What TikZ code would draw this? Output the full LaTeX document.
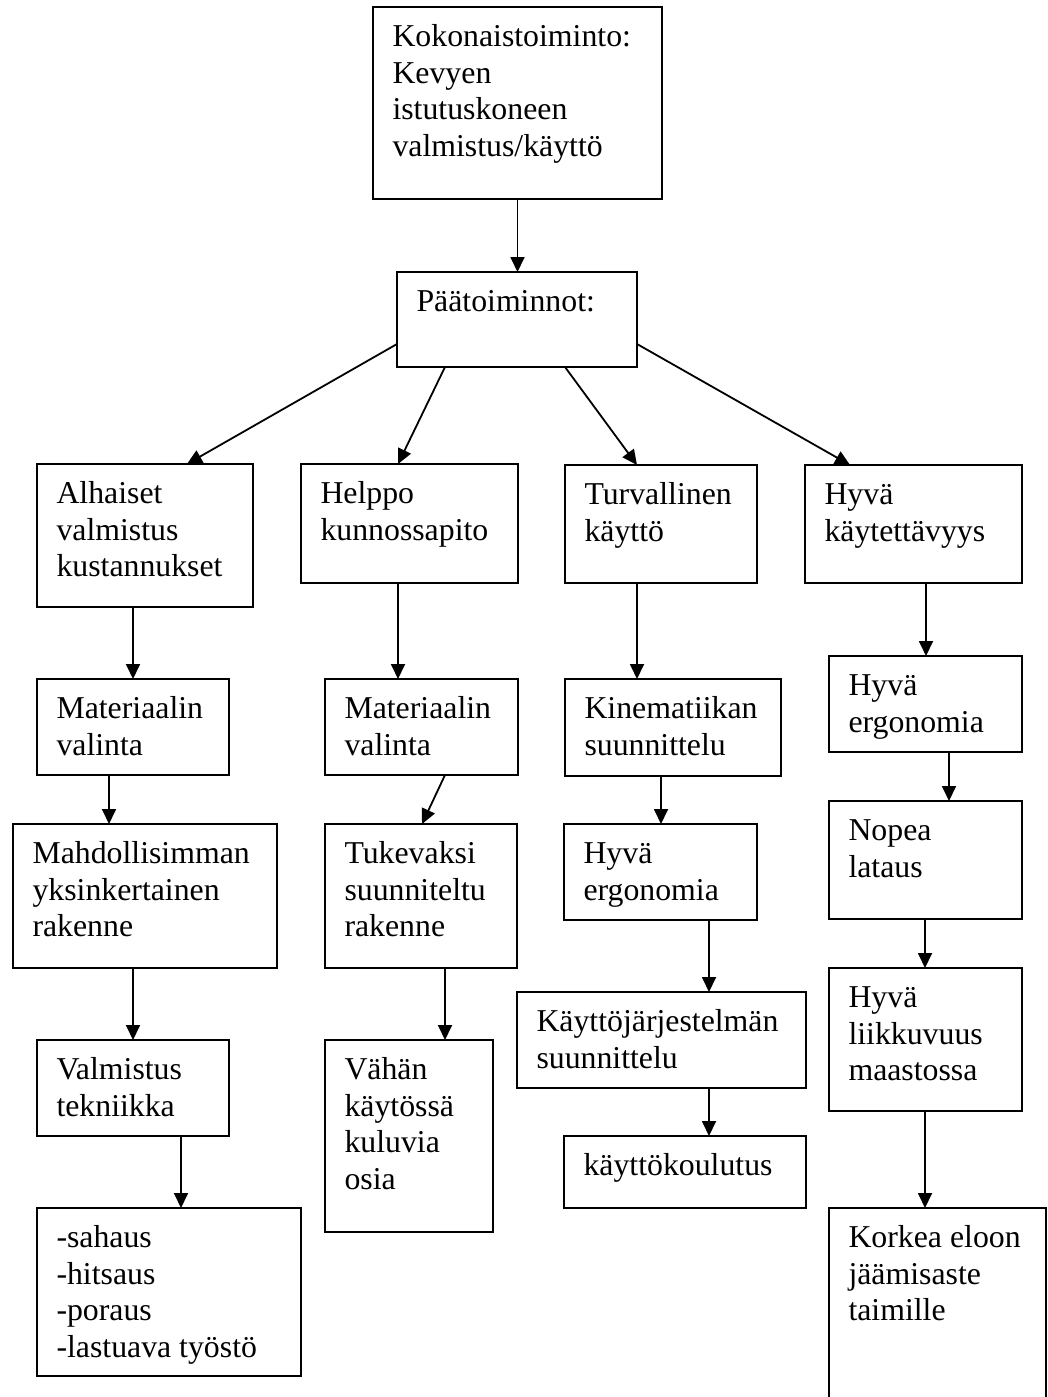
\documentclass[tikz,border=0pt]{standalone}
\usepackage{fontspec}
\setmainfont{Liberation Serif}
\usetikzlibrary{arrows.meta}

% text block of a box: fixed width and height, first baseline 39.5pt below the top
\newcommand\celltext{\fontsize{31.8pt}{36.7pt}\selectfont}
\newcommand\cell[3]{%
  \vbox to #2pt{\hsize=#1pt\parindent=0pt\leftskip=19.5pt
    \rightskip=0pt plus 1fil\parfillskip=0pt plus 1fil\hyphenpenalty=10000
    \kern11.5pt\noindent\rule{0pt}{28pt}#3\par\vss}}

\tikzset{
  cellbox/.style={draw, line width=1.8pt, inner sep=0pt, outer sep=0pt,
    anchor=north west, font=\celltext},
  arr/.style={line width=1.8pt, -{Triangle[length=15pt,width=14pt]}}
}

\begin{document}
\begin{tikzpicture}[x=1pt,y=-1pt]
\path[use as bounding box, fill=white] (0,0) rectangle (1047,1397);
\clip (0,0) rectangle (1047,1397);

% top levels
\node[cellbox] (top) at (373,7)   {\cell{289}{192}{Kokonaistoiminto:\\Kevyen\\istutuskoneen\\valmistus/käyttö}};
\node[cellbox] (paa) at (397,272) {\cell{240}{95}{Päätoiminnot:}};

% main functions
\node[cellbox] (alh) at (37,464)  {\cell{216}{143}{Alhaiset\\valmistus\\kustannukset}};
\node[cellbox] (hel) at (301,464) {\cell{217}{119}{Helppo\\kunnossapito}};
\node[cellbox] (tur) at (565,465) {\cell{192}{118}{Turvallinen\\käyttö}};
\node[cellbox] (hyk) at (805,465) {\cell{217}{118}{Hyvä\\käytettävyys}};

% first column
\node[cellbox] (mat1) at (37,679)  {\cell{192}{96}{Materiaalin\\valinta}};
\node[cellbox] (mahd) at (13,824)  {\cell{264}{144}{Mahdollisimman\\yksinkertainen\\rakenne}};
\node[cellbox] (val)  at (37,1040) {\cell{192}{96}{Valmistus\\tekniikka}};
\node[cellbox] (list) at (37,1208) {\cell{264}{168}{-sahaus\\-hitsaus\\-poraus\\-lastuava työstö}};

% second column
\node[cellbox] (mat2) at (325,679)  {\cell{193}{96}{Materiaalin\\valinta}};
\node[cellbox] (tuk)  at (325,824)  {\cell{192}{144}{Tukevaksi\\suunniteltu\\rakenne}};
\node[cellbox] (vah)  at (325,1040) {\cell{168}{192}{Vähän\\käytössä\\kuluvia\\osia}};

% third column
\node[cellbox] (kin)  at (565,679)  {\cell{216}{97}{Kinematiikan\\suunnittelu}};
\node[cellbox] (erg2) at (564,824)  {\cell{193}{96}{Hyvä\\ergonomia}};
\node[cellbox] (kj)   at (517,992)  {\cell{289}{96}{Käyttöjärjestelmän\\suunnittelu}};
\node[cellbox] (kou)  at (564,1136) {\cell{242}{72}{käyttökoulutus}};

% fourth column
\node[cellbox] (erg1) at (829,656)  {\cell{193}{96}{Hyvä\\ergonomia}};
\node[cellbox] (nop)  at (829,801)  {\cell{193}{118}{Nopea\\lataus}};
\node[cellbox] (liik) at (829,968)  {\cell{193}{143}{Hyvä\\liikkuvuus\\maastossa}};
\node[cellbox] (kor)  at (829,1208) {\cell{217}{210}{Korkea eloon\\jäämisaste\\taimille}};

% connectors
\draw[arr] (top.south) -- (top.south |- paa.north);
\draw[arr] ([yshift=-72pt]paa.north west) -- ([xshift=150pt]alh.north west);
\draw[arr] ([xshift=48pt]paa.south west)  -- ([xshift=97pt]hel.north west);
\draw[arr] ([xshift=168pt]paa.south west) -- ([xshift=72pt]tur.north west);
\draw[arr] ([yshift=-72pt]paa.north east) -- ([xshift=45pt]hyk.north west);

\draw[arr] ([xshift=96pt]alh.south west)  -- ([xshift=96pt]alh.south west |- mat1.north);
\draw[arr] ([xshift=72pt]mat1.south west) -- ([xshift=72pt]mat1.south west |- mahd.north);
\draw[arr] ([xshift=120pt]mahd.south west) -- ([xshift=120pt]mahd.south west |- val.north);
\draw[arr] ([xshift=144pt]val.south west) -- ([xshift=144pt]val.south west |- list.north);

\draw[arr] ([xshift=97pt]hel.south west)  -- ([xshift=97pt]hel.south west |- mat2.north);
\draw[arr] ([xshift=120pt]mat2.south west) -- ([xshift=97pt]tuk.north west);
\draw[arr] ([xshift=120pt]tuk.south west) -- ([xshift=120pt]tuk.south west |- vah.north);

\draw[arr] ([xshift=72pt]tur.south west)  -- ([xshift=72pt]tur.south west |- kin.north);
\draw[arr] ([xshift=96pt]kin.south west)  -- ([xshift=96pt]kin.south west |- erg2.north);
\draw[arr] ([xshift=145pt]erg2.south west) -- ([xshift=145pt]erg2.south west |- kj.north);
\draw[arr] ([xshift=192pt]kj.south west)  -- ([xshift=192pt]kj.south west |- kou.north);

\draw[arr] ([xshift=121pt]hyk.south west) -- ([xshift=121pt]hyk.south west |- erg1.north);
\draw[arr] ([xshift=120pt]erg1.south west) -- ([xshift=120pt]erg1.south west |- nop.north);
\draw[arr] ([xshift=96pt]nop.south west)  -- ([xshift=96pt]nop.south west |- liik.north);
\draw[arr] ([xshift=96pt]liik.south west) -- ([xshift=96pt]liik.south west |- kor.north);
\end{tikzpicture}
\end{document}
